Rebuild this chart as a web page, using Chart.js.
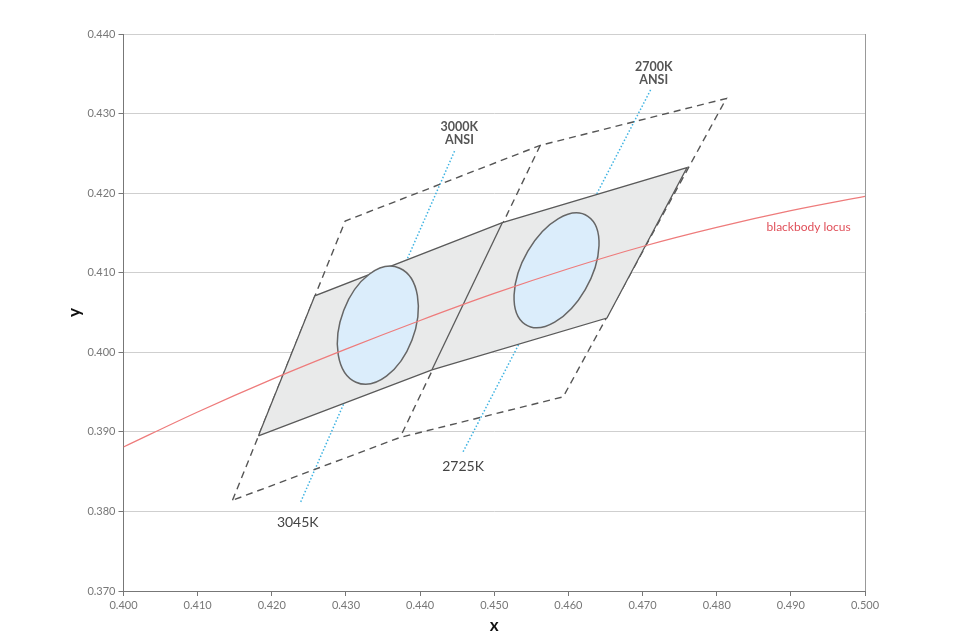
<!DOCTYPE html>
<html lang="en">
<head>
<meta charset="UTF-8">
<title>ANSI 2700K / 3000K chromaticity bins</title>
<script src="https://cdn.jsdelivr.net/npm/chart.js"></script>
<style>
  html, body { margin: 0; padding: 0; background: #fff; }
  #wrap { width: 960px; height: 640px; }
</style>
</head>
<body>
<div id="wrap"><canvas id="cie"></canvas></div>
<script>
// blackbody locus
const locusX = [0.400, 0.410, 0.420, 0.430, 0.440, 0.450, 0.460, 0.470, 0.480, 0.490, 0.500];
const locusY = [0.3881, 0.3925, 0.3966, 0.4004, 0.4040, 0.4074, 0.4105, 0.4133, 0.4157, 0.4178, 0.4196];

// ANSI quadrangles (dashed outline + shared edge)
const ansiX = [0.4147, 0.4299, 0.4562, 0.4813, 0.4593, 0.4373, 0.4147];
const ansiY = [0.3814, 0.4165, 0.4260, 0.4319, 0.3944, 0.3893, 0.3814];
const ansiMidX = [0.4562, 0.4373];
const ansiMidY = [0.4260, 0.3893];

// tighter grey bins
const binX = [0.4182, 0.4258, 0.4511, 0.4760, 0.4652, 0.4416, 0.4182];
const binY = [0.3895, 0.4071, 0.4163, 0.4232, 0.4043, 0.3978, 0.3895];
const binMidX = [0.4511, 0.4416];
const binMidY = [0.4163, 0.3978];

// iso-CCT lines (dotted)
const cct3000X = [0.4239, 0.4447];
const cct3000Y = [0.3812, 0.4254];
const cct2700X = [0.4458, 0.4711];
const cct2700Y = [0.3875, 0.4330];

// ellipses: centre, semi-axes, tilt (deg)
const ellCX = [0.4343, 0.4584];
const ellCY = [0.4034, 0.4103];
const ellA = [0.00775, 0.0080];
const ellB = [0.00497, 0.00456];
const ellAngle = [67.6, 58.1];

const notes = [
    { text: '3000K', x: 0.4453, y: 0.4283, font: 'bold 12.5px Lato', color: '#555' },
    { text: 'ANSI', x: 0.4453, y: 0.4267, font: 'bold 12.5px Lato', color: '#555' },
    { text: '2700K', x: 0.4715, y: 0.4358, font: 'bold 12.5px Lato', color: '#555' },
    { text: 'ANSI', x: 0.4715, y: 0.4342, font: 'bold 12.5px Lato', color: '#555' },
    { text: '3045K', x: 0.4235, y: 0.3786, font: '14px Lato', color: '#444' },
    { text: '2725K', x: 0.4458, y: 0.3856, font: '14px Lato', color: '#444' },
    { text: 'blackbody locus', x: 0.4924, y: 0.4157, font: '12px Lato', color: '#e0505a' }
];

function pts(xs, ys) {
    return xs.map((x, i) => ({ x: x, y: ys[i] }));
}

const ellipsePlugin = {
    id: 'ellipses',
    afterDatasetDraw(chart, args) {
        if (args.index !== 2) return;
        const ctx = chart.ctx;
        const sx = chart.scales.x, sy = chart.scales.y;
        const kx = sx.getPixelForValue(1) - sx.getPixelForValue(0);
        const ky = sy.getPixelForValue(0) - sy.getPixelForValue(1);
        ellCX.forEach((cx, i) => {
            ctx.save();
            ctx.translate(sx.getPixelForValue(cx), sy.getPixelForValue(ellCY[i]));
            ctx.scale(kx, -ky);
            ctx.rotate(ellAngle[i] * Math.PI / 180);
            ctx.beginPath();
            ctx.ellipse(0, 0, ellA[i], ellB[i], 0, 0, Math.PI * 2);
            ctx.restore();
            ctx.save();
            ctx.fillStyle = '#dbedfb';
            ctx.strokeStyle = '#666';
            ctx.lineWidth = 1.5;
            ctx.fill();
            ctx.stroke();
            ctx.restore();
        });
    }
};

const notePlugin = {
    id: 'notes',
    afterDatasetsDraw(chart) {
        const ctx = chart.ctx;
        const sx = chart.scales.x, sy = chart.scales.y;
        ctx.save();
        ctx.textAlign = 'center';
        ctx.textBaseline = 'middle';
        notes.forEach(n => {
            ctx.font = n.font;
            ctx.fillStyle = n.color;
            ctx.fillText(n.text, sx.getPixelForValue(n.x), sy.getPixelForValue(n.y));
        });
        ctx.restore();
    }
};

const ctx = document.getElementById('cie').getContext('2d');

new Chart(ctx, {
    type: 'scatter',
    data: {
        datasets: [
            { // 0 blackbody locus, on top
                data: pts(locusX, locusY), showLine: true, borderColor: '#ee7b7b', borderWidth: 1.2,
                pointRadius: 0, tension: 0.35, order: 0
            },
            { // 1 grey bins divider
                data: pts(binMidX, binMidY), showLine: true, borderColor: '#5a5a5a', borderWidth: 1.3,
                pointRadius: 0, order: 1
            },
            { // 2 grey bins outline + fill
                data: pts(binX, binY), showLine: true, borderColor: '#5a5a5a', borderWidth: 1.3,
                backgroundColor: '#e9eaea', fill: 'shape', pointRadius: 0, order: 2
            },
            { // 3 ANSI quadrangles
                data: pts(ansiX, ansiY), showLine: true, borderColor: '#555', borderWidth: 1.4,
                borderDash: [7, 5], pointRadius: 0, order: 3
            },
            { // 4 ANSI shared edge
                data: pts(ansiMidX, ansiMidY), showLine: true, borderColor: '#555', borderWidth: 1.4,
                borderDash: [7, 5], pointRadius: 0, order: 4
            },
            { // 5 3000K line
                data: pts(cct3000X, cct3000Y), showLine: true, borderColor: '#3fb3e2', borderWidth: 1.5,
                borderDash: [1.5, 2], pointRadius: 0, order: 5
            },
            { // 6 2700K line
                data: pts(cct2700X, cct2700Y), showLine: true, borderColor: '#3fb3e2', borderWidth: 1.5,
                borderDash: [1.5, 2], pointRadius: 0, order: 6
            }
        ]
    },
    options: {
        responsive: true,
        maintainAspectRatio: false,
        animation: false,
        layout: { padding: { top: 34, right: 95, left: 60, bottom: 0 } },
        plugins: {
            legend: { display: false },
            tooltip: { enabled: false }
        },
        scales: {
            x: {
                type: 'linear',
                min: 0.4, max: 0.5,
                afterFit: s => { s.height = 49; },
                ticks: {
                    stepSize: 0.01,
                    color: '#777',
                    font: { family: 'Lato', size: 11 },
                    padding: 3,
                    callback: v => v.toFixed(3)
                },
                grid: {
                    color: c => (c.index === 10 ? '#999' : 'rgba(0,0,0,0)'),
                    tickColor: '#777',
                    tickLength: 5
                },
                border: { color: '#777', width: 1 },
                title: {
                    display: true, text: 'x', color: '#111',
                    font: { family: 'Lato', size: 17, weight: 'bold' },
                    padding: { top: 2, bottom: 4 }
                }
            },
            y: {
                type: 'linear',
                min: 0.37, max: 0.44,
                afterFit: s => { s.width = 63.5; },
                ticks: {
                    stepSize: 0.01,
                    color: '#777',
                    font: { family: 'Lato', size: 11 },
                    padding: 3,
                    callback: v => v.toFixed(3)
                },
                grid: {
                    color: '#cfcfcf',
                    tickColor: '#777',
                    tickLength: 5
                },
                border: { color: '#777', width: 1 },
                title: {
                    display: true, text: 'y', color: '#111',
                    font: { family: 'Lato', size: 17, weight: 'bold' },
                    padding: { top: 4, bottom: 4 }
                }
            }
        }
    },
    plugins: [ellipsePlugin, notePlugin]
});
</script>
</body>
</html>
